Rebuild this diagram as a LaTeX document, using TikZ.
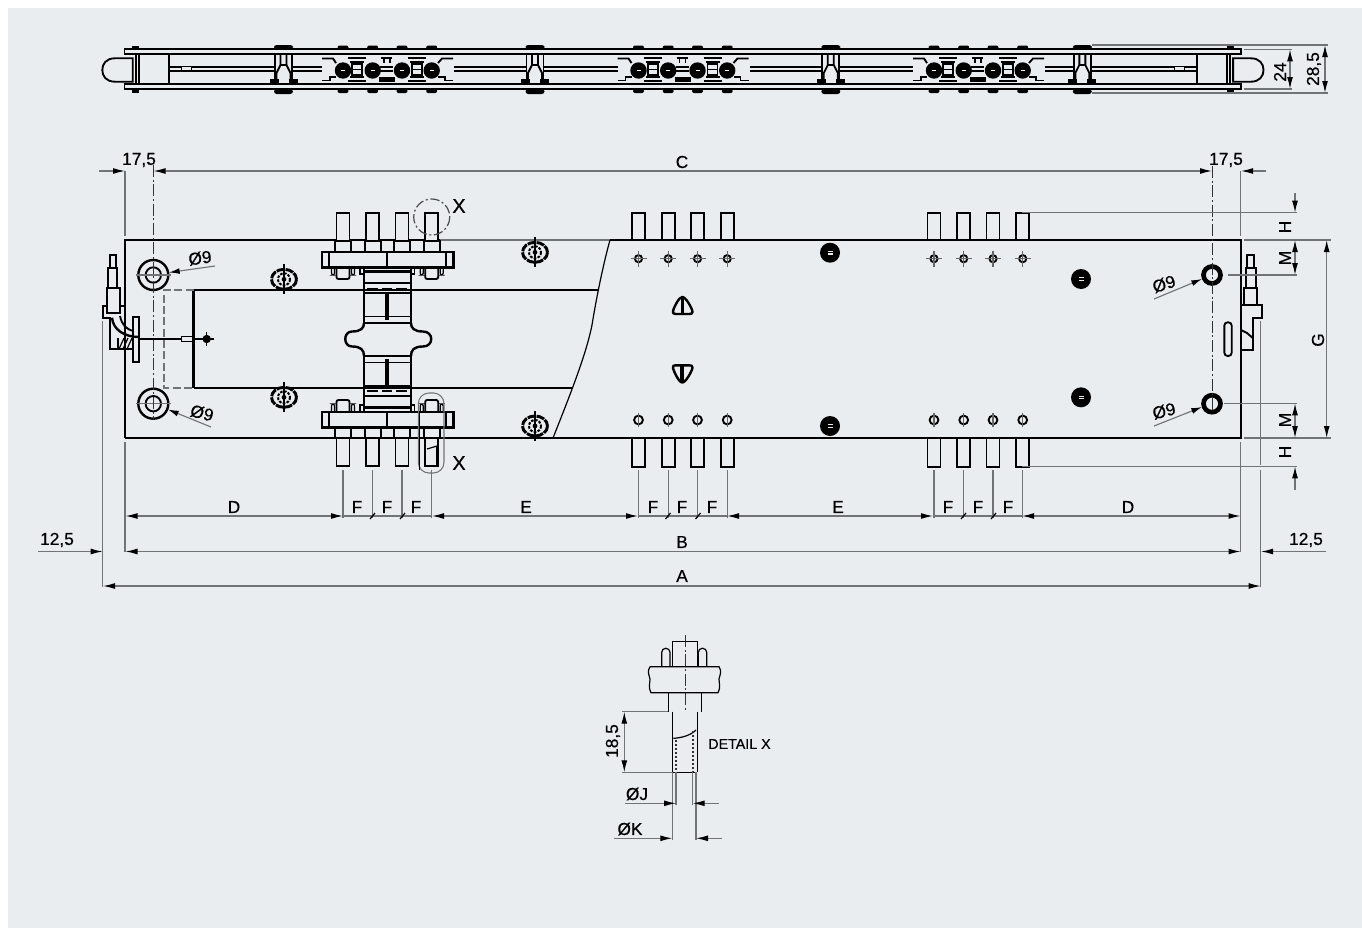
\documentclass[tikz,border=0pt]{standalone}
\usepackage{fontspec}
\setmainfont{Liberation Sans}[FakeBold=0.45]
\usetikzlibrary{arrows.meta}
\definecolor{panelbg}{RGB}{233,237,239}
\definecolor{dimgrey}{RGB}{112,116,118}
\tikzset{
	outline/.style={line width=1.8pt,black},
	part/.style={line width=1.4pt,black},
	thinpart/.style={line width=0.9pt,black},
	extline/.style={line width=0.8pt,dimgrey},
	dimline/.style={line width=0.85pt,dimgrey},
	dimtip/.style={dimline,-{Latex[length=9pt,width=4.4pt,black]}},
	axisline/.style={line width=0.7pt,black!80,dash pattern={on 9pt off 2pt on 1.5pt off 2pt}},
	lbl/.style={font=\fontsize{13}{13}\selectfont,inner sep=0.75pt},
	smalllbl/.style={font=\fontsize{10.7}{11}\selectfont,inner sep=0.75pt},
}
\begin{document}
\begin{tikzpicture}[x=0.75pt,y=0.75pt,yscale=-1,xscale=1]
	\useasboundingbox (0,0) rectangle (1362,928);
	\fill [white] (0,0) rectangle (1362,928);
	\fill [panelbg] (8,8) rectangle (1362,928);

	\draw [part] (124.5,49) rectangle (1241,54);
	\draw [part] (124.5,84) rectangle (1241,89);
	\draw [part] (169,66.7) -- (1196.8,66.7);
	\draw [part] (169,70.7) -- (1196.8,70.7);
	\foreach \mx/\sx in {0/1,1365.8/-1} {
		\begin{scope}[shift={(\mx,0)},xscale=\sx]
			\draw [part] (132.7,58.3) -- (115,58.3) .. controls (106,58.3) and (102.3,64) .. (102.3,70) .. controls (102.3,76) and (106,81.7) .. (115,81.7) -- (132.7,81.7) -- cycle;
			\draw [part] (135.7,54) -- (135.7,84);
			\draw [part] (139,54) -- (139,84);
			\draw [part] (169,54) -- (169,84);
			\fill (132,46) rectangle (139,48.5);
			\fill (132,89.5) rectangle (139,93);
			\draw [thinpart,fill=panelbg] (181.7,66.5) rectangle (191.7,71);
		\end{scope}
	}
	\foreach \cx in {283.5,535,830.8,1082.3} {
		\begin{scope}[shift={(\cx,0)}]
			\fill [panelbg] (-8,54.6) rectangle (8,83.4);
			\fill [rounded corners=2pt] (-9.5,45) rectangle (9.5,49);
			\fill [rounded corners=2pt] (-9.5,89) rectangle (9.5,94);
			\draw [part] (-8.5,54) -- (-8.5,80);
			\draw [part] (8.5,54) -- (8.5,80);
			\draw [part] (-3,54) -- (-3,65) -- (-7,73) -- (-7,82);
			\draw [part] (3,54) -- (3,65) -- (7,73) -- (7,82);
			\draw [part] (-3,65) -- (3,65);
			\fill (-14,79) rectangle (-5,84);
			\fill (5,79) rectangle (14,84);
		\end{scope}
	}
	\foreach \gx in {0,295.5,591} {
		\begin{scope}[shift={(\gx,0)}]
			\fill [panelbg] (322,55) rectangle (454,83);
			\foreach \bx in {343,372.7,402,431.7} {
				\fill [rounded corners=1.5pt] (\bx-5.5,45.5) rectangle (\bx+5.5,49);
				\fill [rounded corners=1.5pt] (\bx-5.5,89) rectangle (\bx+5.5,93);
				\fill (\bx,70.5) circle [radius=8.2];
				\draw [white,line width=0.9pt] (\bx-2,70.5) -- (\bx+2,70.5);
			}
			\foreach \sx in {357.3,417} {
				\draw [part] (\sx-9,57.8) -- (\sx+9,57.8);
				\draw [part] (\sx-9,81) -- (\sx+9,81);
				\draw [thinpart] (\sx-7,62) -- (\sx+7,62);
				\draw [thinpart] (\sx-7,77) -- (\sx+7,77);
				\draw [part] (\sx-5,64) rectangle (\sx+5,75);
				\draw [thinpart] (\sx-5,69.5) -- (\sx+5,69.5);
			}
			\draw [part] (322,58.5) -- (333,58.5) -- (336,63);
			\draw [part] (322,80.5) -- (330,80.5) -- (330,77) -- (336,77);
			\draw [part] (453,58.5) -- (442,58.5) -- (438,63);
			\draw [part] (453,80.5) -- (445,80.5) -- (445,77) -- (438,77);
			\draw [part] (381,58) -- (392,58);
			\draw [part] (384,58) -- (384,63);
			\draw [part] (390,58) -- (390,63);
			\draw [part] (380,66.7) -- (393,66.7);
			\draw [part] (380,70.7) -- (393,70.7);
			\fill (379,77) rectangle (395,82);
		\end{scope}
	}

	\draw [outline] (125,438) -- (1241,438) -- (1241,240) -- (610,240);
	\draw [outline] (125,438) -- (125,240) -- (440,240);
	\draw [extline] (440,240) -- (610,240);
	\draw [thinpart] (610,240) .. controls (603,265) and (596,300) .. (592,325) .. controls (586,355) and (570,395) .. (553,438);
	\draw [outline] (193.5,388) -- (193.5,290) -- (598,290);
	\draw [outline] (193.5,388) -- (572,388);
	\draw [line width=0.9pt,dimgrey,dash pattern={on 6pt off 2.5pt}] (193.5,290) -- (164,290) -- (164,388) -- (193.5,388);

	\foreach \gx in {295.5,591} {
		\foreach \bx in {343,372.7,402,431.7} {
			\draw [part] (\bx+\gx-6.5,240) -- (\bx+\gx-6.5,212.7) -- (\bx+\gx+6.5,212.7) -- (\bx+\gx+6.5,240);
			\draw [part] (\bx+\gx-6.5,438) -- (\bx+\gx-6.5,466.7) -- (\bx+\gx+6.5,466.7) -- (\bx+\gx+6.5,438);
			\draw [part] (\bx+\gx,258.7) circle [radius=3.6];
			\draw [thinpart,black!60] (\bx+\gx-8,258.7) -- (\bx+\gx+8,258.7);
			\draw [thinpart,black!60] (\bx+\gx,250.7) -- (\bx+\gx,266.7);
			\draw [part] (\bx+\gx,420) circle [radius=4.4];
			\draw [thinpart,black!60] (\bx+\gx,413) -- (\bx+\gx,427);
		}
	}

	\foreach \sy/\oy in {1/0,-1/679} {
		\begin{scope}[shift={(0,\oy)},yscale=\sy]
			\foreach \bx in {343,372.7,402,431.7} {
				\fill [panelbg] (\bx-6.5,213) rectangle (\bx+6.5,251);
				\draw [part] (\bx-6.5,241) -- (\bx-6.5,212.7) -- (\bx+6.5,212.7) -- (\bx+6.5,241);
				\draw [part] (\bx-8,251.7) -- (\bx-8,241) -- (\bx+8,241) -- (\bx+8,251.7);
			}
			\foreach \bx in {343,431.7} {
				\draw [part,rounded corners=1.5pt] (\bx-6.5,267.3) -- (\bx-6.5,279) -- (\bx+6.5,279) -- (\bx+6.5,267.3);
				\draw [thinpart,rounded corners=1.5pt] (\bx-11.5,267.3) -- (\bx-11.5,275) -- (\bx-8.5,275) -- (\bx-8.5,267.3);
				\draw [thinpart,rounded corners=1.5pt] (\bx+8.5,267.3) -- (\bx+8.5,275) -- (\bx+11.5,275) -- (\bx+11.5,267.3);
			}
			\draw [part] (360,267.3) -- (360,274) -- (364,274);
			\draw [part] (414.5,267.3) -- (414.5,274) -- (411,274);
			\draw [outline,fill=panelbg] (321.7,251.7) rectangle (453.3,267.3);
			\draw [part] (329,251.7) -- (329,267.3);
			\draw [part] (446,251.7) -- (446,267.3);
			\draw [line width=1.8pt] (386.7,251.7) -- (386.7,267.3);
			\draw [outline] (364,267.3) -- (364,323);
			\draw [outline] (411,267.3) -- (411,323);
			\draw [line width=2.4pt] (364,271.7) -- (411,271.7);
			\draw [thinpart] (364,283) -- (411,283);
			\draw [line width=1.7pt] (364,293) -- (411,293);
			\draw [line width=1.5pt,dash pattern={on 8pt off 3pt}] (367,288.5) -- (409,288.5);
			\draw [thinpart] (364,316.7) -- (411,316.7);
			\draw [part] (364,323.3) -- (411,323.3);
			\draw [line width=2.6pt] (387.2,293) -- (387.2,320);
		\end{scope}
	}
	\draw [outline] (364,323) .. controls (364,328) and (361,331.5) .. (352,331.5) .. controls (343,331.5) and (343,346.5) .. (352,346.5) .. controls (361,346.5) and (364,350) .. (364,356);
	\draw [outline] (411,323) .. controls (411,328) and (414,331.5) .. (423,331.5) .. controls (434,331.5) and (434,346.5) .. (423,346.5) .. controls (414,346.5) and (411,350) .. (411,356);

	\foreach \kx/\ky in {284/279.3,284/397.3,535/252.3,535/426} {
		\draw [line width=2.2pt,dash pattern={on 6pt off 0.8pt}] (\kx,\ky) ellipse [x radius=12.5,y radius=10];
		\draw [line width=1.5pt,dash pattern={on 2pt off 1pt}] (\kx,\ky) circle [radius=6];
		\fill (\kx,\ky) circle [radius=2.4];
		\draw [thinpart] (\kx,\ky-15) -- (\kx,\ky+15);
	}
	\foreach \dx/\dy in {830/252.7,830/426,1081/279,1081/397.3} {
		\fill (\dx,\dy) circle [radius=10];
		\fill [panelbg] (\dx-2.5,\dy-1.8) rectangle (\dx+2.5,\dy+1.8);
		\draw [thinpart] (\dx-2.5,\dy) -- (\dx+2.5,\dy);
	}

	\draw [line width=1.8pt,line join=round] (682.3,297) .. controls (686,297) and (692.5,309) .. (692.5,312) .. controls (692.5,314) and (691,314) .. (689,314) -- (675.5,314) .. controls (673,314) and (672.8,313) .. (673,311) .. controls (674,307) and (679,297) .. (682.3,297) -- cycle;
	\draw [line width=2.4pt] (682.3,298) -- (682.3,314);
	\draw [line width=1.8pt,line join=round] (682.3,382.5) .. controls (686,382.5) and (692.5,370) .. (692.5,367.5) .. controls (692.5,365.5) and (691,365.3) .. (689,365.3) -- (675.5,365.3) .. controls (673,365.3) and (672.8,366) .. (673,368) .. controls (674,372) and (679,382.5) .. (682.3,382.5) -- cycle;
	\draw [line width=3pt] (682.3,365.3) -- (682.3,381);

	\foreach \hy in {275,403.7} {
		\draw [outline] (153.3,\hy) circle [radius=15];
		\draw [part] (153.3,\hy) circle [radius=7.7];
		\draw [line width=3.5pt] (1212,\hy) circle [radius=8.5];
		\draw [extline] (136,\hy) -- (171,\hy);
	}
	\draw [axisline] (153.3,165) -- (153.3,420);
	\draw [axisline] (1212,166) -- (1212,412);

	\draw [part,fill=panelbg] (110,255) rectangle (116,268.3);
	\draw [part,fill=panelbg] (108.3,268.3) rectangle (117.3,288.3);
	\draw [part,fill=panelbg] (106.7,288.3) rectangle (120,313.3);
	\draw [part] (106.7,305.7) -- (102.7,305.7) -- (102.7,317.7) -- (110,317.7) -- (110,349.3) -- (133.3,349.3);
	\draw [part] (120,305.7) -- (124,305.7);
	\draw [part] (133.3,316.7) rectangle (139,361.7);
	\draw [line width=1.8pt] (112,317.7) .. controls (113,330) and (125,337) .. (139,337);
	\draw [part] (120,316) .. controls (122,325) and (126,329) .. (133.3,331);
	\draw [thinpart] (118,338) -- (118,349.3);
	\foreach \hx in {121,125,129} {
		\draw [thinpart] (\hx-2,349) -- (\hx+3,338);
	}
	\draw [part] (139,339) -- (181.7,339);
	\draw [thinpart,fill=panelbg] (181.7,336.7) rectangle (193,341.7);
	\draw [line width=2.2pt] (193,339) -- (206.7,339);
	\fill (206.7,339) circle [radius=4.2];
	\draw [thinpart] (200,339) -- (214,339);
	\draw [thinpart] (206.7,332) -- (206.7,346);

	\draw [part,fill=panelbg] (1247.3,255) rectangle (1254,268.3);
	\draw [part,fill=panelbg] (1245.7,268.3) rectangle (1256,288.3);
	\draw [part,fill=panelbg] (1244,288.3) rectangle (1257.3,305);
	\draw [part] (1241,305) -- (1261.7,305) -- (1261.7,318.3) -- (1253.3,318.3) -- (1253.3,350) -- (1241,350);
	\draw [part] (1241,330) -- (1247,333) -- (1253.3,338.5);
	\draw [part,rounded corners=2.5pt] (1224.3,322.3) rectangle (1231.7,356);

	\draw [extline] (125,171) -- (125,236);
	\draw [extline] (125,442) -- (125,552);
	\draw [extline] (102.7,321) -- (102.7,587);
	\draw [extline] (1240.7,171) -- (1240.7,236);
	\draw [extline] (1240.7,442) -- (1240.7,552);
	\draw [extline] (1260.7,321) -- (1260.7,465);
	\draw [extline] (1260.7,470) -- (1260.7,587);

	\draw [dimtip] (99,171) -- (125,171);
	\draw [dimtip] (1266,171) -- (1241,171);
	\draw [dimtip] (682,171) -- (153.5,171);
	\draw [dimtip] (682,171) -- (1212,171);
	\node [lbl] (dimLeftEdge) at (139,160) {17,5};
	\node [lbl] (dimRightEdge) at (1226,160) {17,5};
	\node [lbl] (dimC) at (682,162) {C};

	\foreach \gx/\ex in {0/432,295.5/727,591/1022} {
		\foreach \bx in {343,372.7,402,431.7} {
			\draw [extline] (\bx+\gx,470) -- (\bx+\gx,518);
		}
		\draw [dimline] (343+\gx,516) -- (431.7+\gx,516);
		\draw [thinpart] (370+\gx,519) -- (375+\gx,513);
		\draw [thinpart] (400+\gx,519) -- (405+\gx,513);
	}
	\draw [extline] (125,470) -- (125,518);
	\draw [dimtip] (234,516) -- (125.5,516);
	\draw [dimtip] (234,516) -- (343,516);
	\draw [dimtip] (535,516) -- (432,516);
	\draw [dimtip] (535,516) -- (638,516);
	\draw [dimtip] (830,516) -- (727,516);
	\draw [dimtip] (830,516) -- (933,516);
	\draw [dimtip] (1130,516) -- (1022,516);
	\draw [dimtip] (1130,516) -- (1240.5,516);
	\foreach \fname/\fx in {a/357,b/387,c/416,d/653,e/682,f/712,g/948,h/978,i/1008} {
		\node [lbl] (dimF\fname) at (\fx,507) {F};
	}
	\node [lbl] (dimDleft) at (234,507) {D};
	\node [lbl] (dimEleft) at (526,507) {E};
	\node [lbl] (dimEright) at (838,507) {E};
	\node [lbl] (dimDright) at (1128,507) {D};

	\draw [dimtip] (682,551.5) -- (125.5,551.5);
	\draw [dimtip] (682,551.5) -- (1240.5,551.5);
	\draw [dimtip] (38,551.5) -- (102.7,551.5);
	\draw [dimtip] (1326,551.5) -- (1261,551.5);
	\node [lbl] (dimB) at (682,542) {B};
	\node [lbl] (dimOffLeft) at (57,540) {12,5};
	\node [lbl] (dimOffRight) at (1306,540) {12,5};
	\draw [dimtip] (682,586) -- (103,586);
	\draw [dimtip] (682,586) -- (1260.7,586);
	\node [lbl] (dimA) at (682,576) {A};

	\draw [dimline] (1022,212.7) -- (1297,212.7);
	\draw [dimline] (1022,466.3) -- (1297,466.3);
	\draw [dimline] (1244,240) -- (1331,240);
	\draw [dimline] (1244,438) -- (1331,438);
	\draw [dimline] (1228,275) -- (1297,275);
	\draw [dimline] (1224,403.3) -- (1297,403.3);
	\draw [dimtip] (1295,193) -- (1295,212.7);
	\draw [dimtip] (1295,490) -- (1295,466.3);
	\draw [dimtip] (1295,258) -- (1295,240);
	\draw [dimtip] (1295,258) -- (1295,275);
	\draw [dimtip] (1295,420) -- (1295,403.3);
	\draw [dimtip] (1295,420) -- (1295,438);
	\draw [dimtip] (1326.7,340) -- (1326.7,240);
	\draw [dimtip] (1326.7,340) -- (1326.7,438);
	\node [lbl,rotate=90] (dimHtop) at (1285,227) {H};
	\node [lbl,rotate=90] (dimHbottom) at (1285,452) {H};
	\node [lbl,rotate=90] (dimMtop) at (1285,258) {M};
	\node [lbl,rotate=90] (dimMbottom) at (1285,420) {M};
	\node [lbl,rotate=90] (dimG) at (1318,340) {G};

	\draw [dimline,-{Latex[length=8pt,width=4.4pt,black]}] (215,266) -- (169,272.5);
	\draw [dimline,-{Latex[length=8pt,width=4.4pt,black]}] (211,427) -- (168,409.5);
	\draw [dimline,-{Latex[length=8pt,width=4.4pt,black]}] (1154,299) -- (1202,279);
	\draw [dimline,-{Latex[length=8pt,width=4.4pt,black]}] (1154,426) -- (1202,407);
	\node [lbl,rotate=8] (holeTopLeft) at (200,258) {Ø9};
	\node [lbl,rotate=-14] (holeBottomLeft) at (202,413) {Ø9};
	\node [lbl,rotate=18] (holeTopRight) at (1164,284) {Ø9};
	\node [lbl,rotate=14] (holeBottomRight) at (1164,411) {Ø9};

	\draw [thinpart,dash pattern={on 7pt off 2pt on 1.5pt off 2pt},black!70] (431.7,217) circle [radius=18];
	\draw [extline,rounded corners=8pt] (418.3,393) rectangle (444,473);
	\draw [thinpart] (419.3,413) -- (419.3,470);
	\draw [thinpart] (427,449) -- (437,446);
	\draw [line width=1.8pt] (436.7,446) -- (436.7,466);
	\node [font=\fontsize{15}{15}\selectfont,inner sep=0.75pt] (markTop) at (459,206) {X};
	\node [font=\fontsize{15}{15}\selectfont,inner sep=0.75pt] (markBottom) at (459,463) {X};

	\draw [axisline] (685,635) -- (685,711);
	\draw [thinpart] (672.3,666.7) -- (672.3,641.7) -- (697.3,641.7) -- (697.3,666.7);
	\draw [thinpart,rounded corners=3pt] (661.7,666.7) -- (661.7,648.3) -- (670,648.3) -- (670,666.7);
	\draw [thinpart,rounded corners=3pt] (698.3,666.7) -- (698.3,648.3) -- (706.7,648.3) -- (706.7,666.7);
	\draw [thinpart] (650,666.7) -- (719,666.7) .. controls (722,671) and (720,675) .. (719,679) .. controls (719,684) and (721,686) .. (718,692.7) -- (651,692.7) .. controls (648,686) and (650,684) .. (650,679) .. controls (649,675) and (647,671) .. (650,666.7);
	\draw [thinpart] (668.3,692.7) -- (668.3,711.7);
	\draw [thinpart] (701.7,692.7) -- (701.7,711.7);
	\draw [thinpart] (672.3,711.7) -- (672.3,772.3);
	\draw [thinpart] (697.3,711.7) -- (697.3,772.3);
	\draw [thinpart] (673.3,738.3) .. controls (680,738) and (690,736) .. (696,730);
	\draw [thinpart] (672.3,772.3) -- (697.3,772.3);
	\draw [line width=1pt,dash pattern={on 1.5pt off 1.5pt},black!80] (676,740) -- (676,772);
	\draw [line width=1pt,dash pattern={on 1.5pt off 1.5pt},black!80] (693,731) -- (693,772);

	\draw [dimline] (622,711.7) -- (668,711.7);
	\draw [dimline] (622,772.3) -- (672,772.3);
	\draw [dimtip] (624.3,741) -- (624.3,711.7);
	\draw [dimtip] (624.3,741) -- (624.3,772.3);
	\node [lbl,rotate=90] (detailLen) at (613,741) {18,5};
	\node [smalllbl] (detailName) at (739.5,744) {DETAIL X};
	\draw [extline] (676,772) -- (676,805);
	\draw [extline] (692.7,772) -- (692.7,805);
	\draw [extline] (672.3,772) -- (672.3,840);
	\draw [extline] (696,772) -- (696,840);
	\draw [dimtip] (625,803.3) -- (676,803.3);
	\draw [dimtip] (719,803.3) -- (692.7,803.3);
	\draw [dimtip] (614,838.3) -- (672.3,838.3);
	\draw [dimtip] (722,838.3) -- (696,838.3);
	\node [lbl] (detailJ) at (637,794) {ØJ};
	\node [lbl] (detailK) at (630,829) {ØK};

	\draw [dimline] (1092,45) -- (1328,45);
	\draw [dimline] (1092,93) -- (1328,93);
	\draw [dimline] (1244,49.3) -- (1292,49.3);
	\draw [dimline] (1244,89) -- (1292,89);
	\draw [dimtip] (1290,69) -- (1290,49.3);
	\draw [dimtip] (1290,69) -- (1290,89);
	\draw [dimtip] (1325,69) -- (1325,45);
	\draw [dimtip] (1325,69) -- (1325,93);
	\node [lbl,rotate=90] (dimInner) at (1280,72) {24};
	\node [lbl,rotate=90] (dimOuter) at (1314,69) {28,5};
\end{tikzpicture}
\end{document}
